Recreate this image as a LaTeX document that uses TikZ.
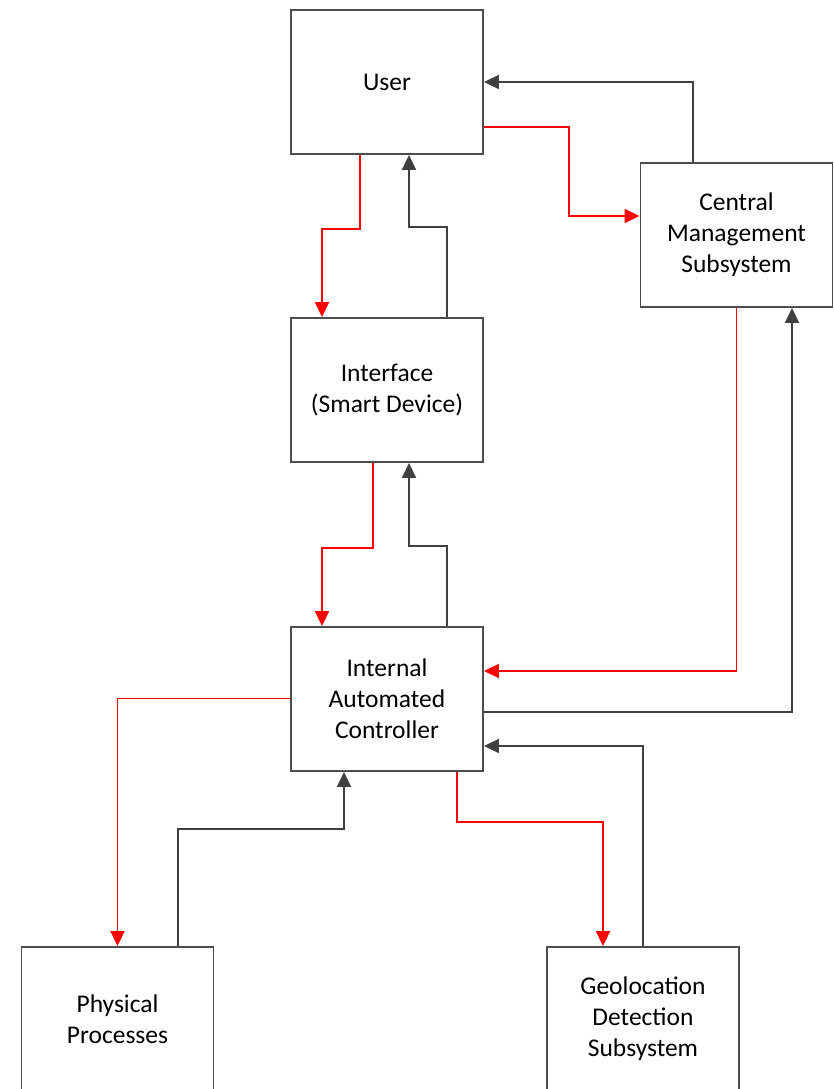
\documentclass[tikz,border=0pt]{standalone}
\usepackage{fontspec}
\setmainfont{Carlito}
\usetikzlibrary{arrows.meta,positioning}
\begin{document}
\begin{tikzpicture}[x=1pt,y=-1pt,
  block/.style={draw=black!70, line width=1.9pt, fill=white, minimum width=192pt,
    minimum height=144pt, align=center, inner sep=0pt, text=black,
    font=\fontsize{25.5}{31}\selectfont},
  flowred/.style={draw=red, line width=1.9pt, -{Triangle[length=15pt,width=14pt]}},
  flowblk/.style={draw=black!75, line width=1.9pt, -{Triangle[length=15pt,width=14pt]}}]
\useasboundingbox (0,0) rectangle (833,1089);
\clip (0,0) rectangle (833,1089);

% blocks
\node[block] (user)  at (387,82)    {User};
\node[block] (cms)   at (736.5,235) {Central\\Management\\Subsystem};
\node[block] (iface) at (387,390)   {Interface\\(Smart Device)};
\node[block] (iac)   at (387,699)   {Internal\\Automated\\Controller};
\node[block] (phys)  at (117.5,1019) {Physical\\Processes};
\node[block] (geo)   at (643,1019)  {Geolocation\\Detection\\Subsystem};

% user <-> interface
\draw[flowred] ([xshift=-27pt]user.south) -- ++(0,74) -| ([xshift=-65pt]iface.north);
\draw[flowblk] ([xshift=60pt]iface.north) -- ++(0,-90) -| ([xshift=22pt]user.south);

% user <-> central management
\draw[flowred] ([yshift=-45pt]user.east) -- ++(85,0) |- ([yshift=19pt]cms.west);
\draw[flowblk] ([xshift=-43.5pt]cms.north) |- (user.east);

% interface <-> controller
\draw[flowred] ([xshift=-14pt]iface.south) -- ++(0,85) -| ([xshift=-65pt]iac.north);
\draw[flowblk] ([xshift=60pt]iac.north) -- ++(0,-80) -| ([xshift=22pt]iface.south);

% central management <-> controller
\draw[flowred] (cms.south) |- ([yshift=28pt]iac.east);
\draw[flowblk] ([yshift=-13pt]iac.east) -| ([xshift=55.5pt]cms.south);

% controller <-> geolocation
\draw[flowblk] (geo.north) |- ([yshift=-47pt]iac.east);
\draw[flowred] ([xshift=70pt]iac.south) -- ++(0,50) -| ([xshift=-40pt]geo.north);

% controller <-> physical processes
\draw[flowred] ([yshift=0.5pt]iac.west) -| (phys.north);
\draw[flowblk] ([xshift=60.5pt]phys.north) -- ++(0,-117) -| ([xshift=-43pt]iac.south);
\end{tikzpicture}
\end{document}
